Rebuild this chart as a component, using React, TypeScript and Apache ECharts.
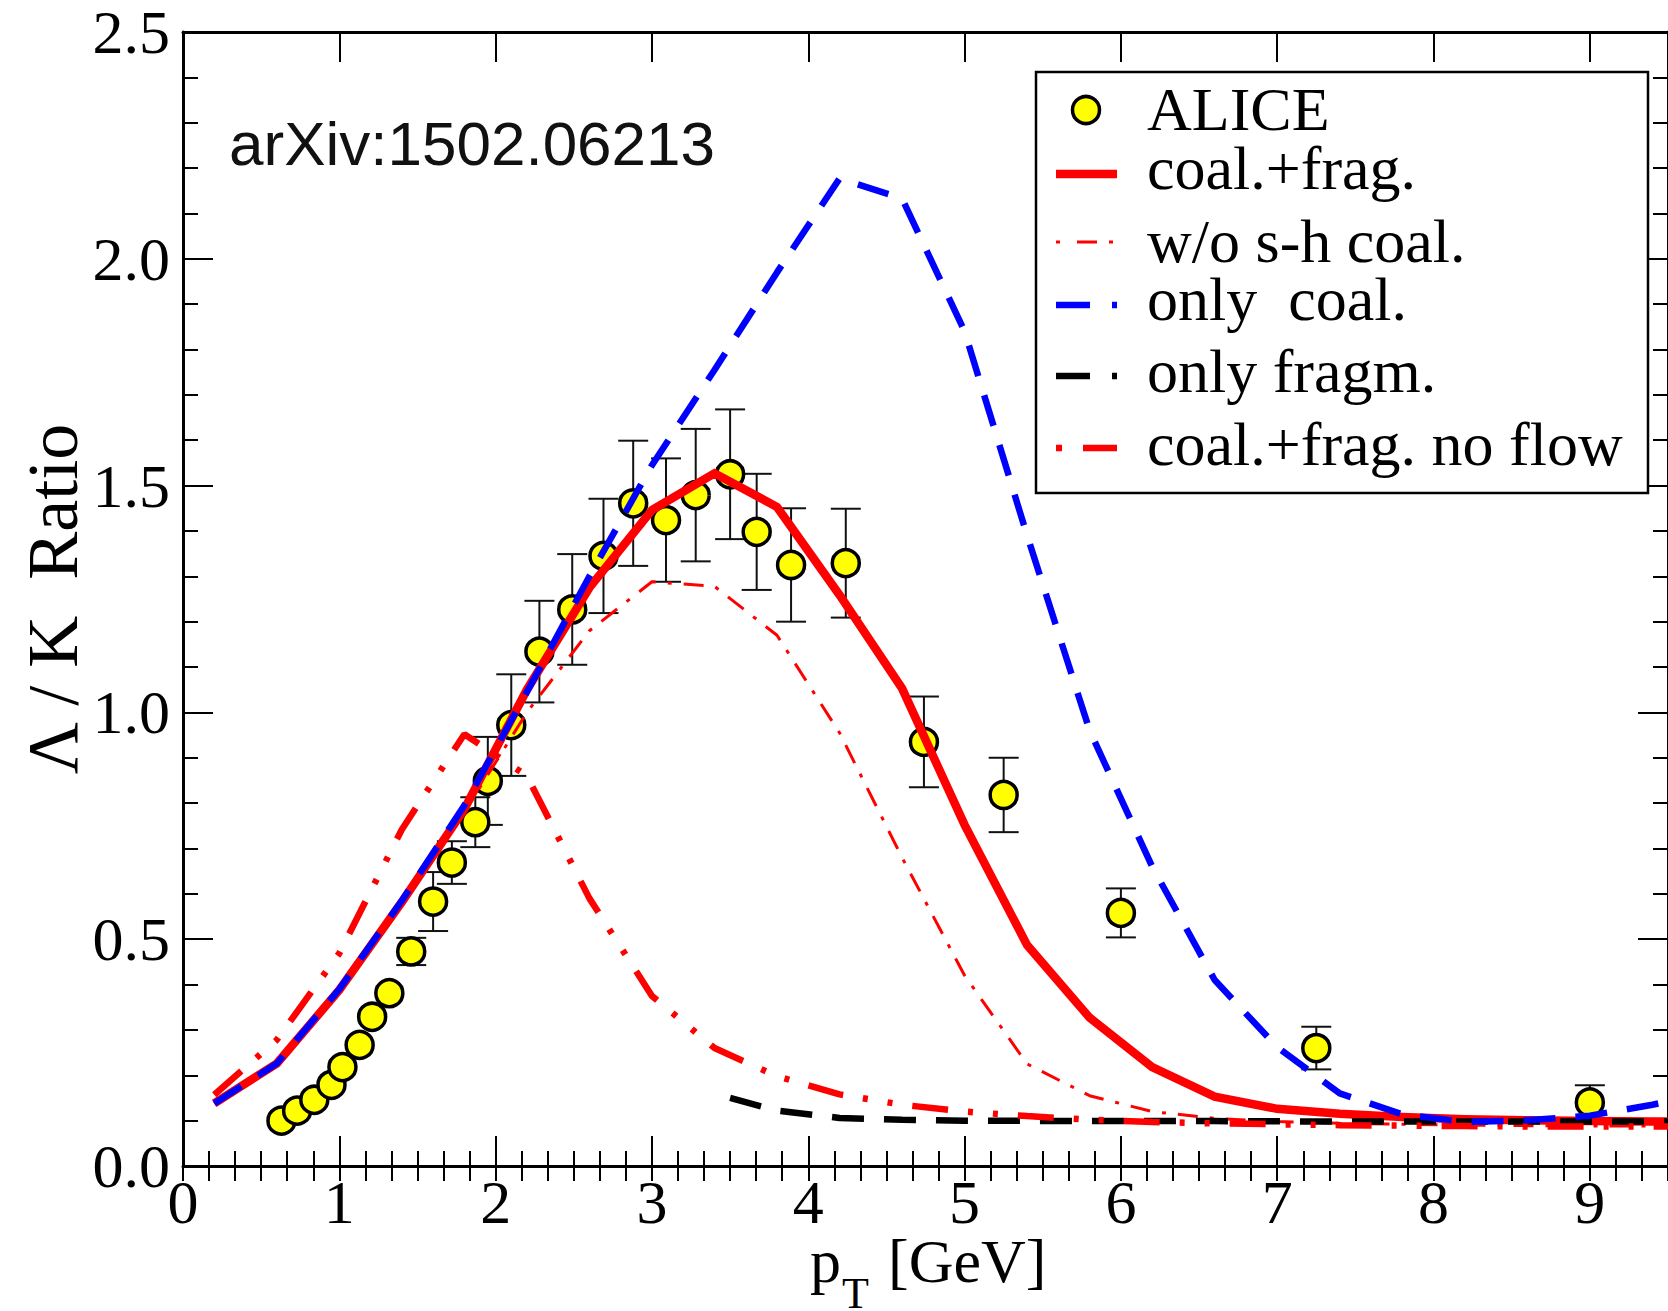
import React, { useEffect, useRef } from 'react';
import * as echarts from 'echarts';

// ---- data ----
const modelPt = [0.2, 0.6, 1.0, 1.4, 1.8, 2.2, 2.6, 3.0, 3.4, 3.8, 4.2, 4.6, 5.0, 5.4, 5.8, 6.2, 6.6, 7.0, 7.4, 7.8, 8.2, 8.6, 9.0, 9.4, 9.5];
const coalFrag = [0.138, 0.226, 0.388, 0.582, 0.787, 1.05, 1.275, 1.446, 1.527, 1.453, 1.259, 1.053, 0.752, 0.487, 0.327, 0.218, 0.153, 0.126, 0.115, 0.108, 0.103, 0.101, 0.099, 0.098, 0.098];
const woShCoal = [0.138, 0.226, 0.385, 0.575, 0.78, 1.0, 1.18, 1.288, 1.278, 1.17, 0.955, 0.68, 0.42, 0.225, 0.155, 0.12, 0.105, 0.098, 0.094, 0.092, 0.09, 0.089, 0.088, 0.088, 0.088];
const onlyCoal = [0.138, 0.226, 0.39, 0.585, 0.795, 1.045, 1.30, 1.545, 1.755, 1.97, 2.177, 2.133, 1.84, 1.39, 0.96, 0.66, 0.41, 0.262, 0.16, 0.114, 0.097, 0.101, 0.111, 0.135, 0.142];
const noFlow = [0.157, 0.278, 0.469, 0.742, 0.952, 0.86, 0.59, 0.375, 0.26, 0.198, 0.158, 0.135, 0.12, 0.11, 0.102, 0.097, 0.094, 0.092, 0.09, 0.089, 0.088, 0.087, 0.087, 0.087, 0.087];
const fragPt = [3.5, 3.8, 4.2, 4.6, 5.0, 5.8, 6.6, 7.4, 8.2, 9.0, 9.5];
const onlyFragm = [0.15, 0.122, 0.106, 0.102, 0.1, 0.099, 0.099, 0.098, 0.098, 0.098, 0.098];

const aliceX = [0.63, 0.73, 0.84, 0.95, 1.02, 1.13, 1.21, 1.32, 1.46, 1.60, 1.72, 1.87, 1.95, 2.10, 2.28, 2.49, 2.69, 2.88, 3.09, 3.28, 3.50, 3.67, 3.89, 4.24, 4.74, 5.25, 6.00, 7.25, 9.00];
const aliceY = [0.100, 0.122, 0.146, 0.179, 0.218, 0.267, 0.329, 0.381, 0.473, 0.583, 0.669, 0.758, 0.849, 0.972, 1.134, 1.227, 1.345, 1.461, 1.424, 1.479, 1.525, 1.398, 1.325, 1.329, 0.935, 0.818, 0.558, 0.260, 0.140];
const aliceErr = [0, 0, 0, 0, 0, 0, 0, 0, 0.03, 0.065, 0.047, 0.055, 0.097, 0.112, 0.112, 0.122, 0.126, 0.138, 0.136, 0.146, 0.143, 0.128, 0.125, 0.12, 0.1, 0.082, 0.054, 0.047, 0.038];

const xTickLabels = ['0', '1', '2', '3', '4', '5', '6', '7', '8', '9'];
const yTickLabels = ['0.0', '0.5', '1.0', '1.5', '2.0', '2.5'];

const legendNames = ['ALICE', 'coal.+frag.', 'w/o s-h coal.', 'only  coal.', 'only fragm.', 'coal.+frag. no flow'];
const annotation = 'arXiv:1502.06213';
const xTitleParts = ['p', 'T', '[GeV]'];
const yTitle = 'Λ / K  Ratio';

const SERIF = "'Liberation Serif', 'Times New Roman', serif";
const SANS = "'Liberation Sans', Arial, sans-serif";

const pairs = (xs: number[], ys: number[]) => xs.map((x, i) => [x, ys[i]]);

export default function App() {
  const ref = useRef<HTMLDivElement>(null);

  useEffect(() => {
    document.body.style.margin = '0';
    const chart = echarts.init(ref.current!, null, { renderer: 'svg' });

    const tickLine = { color: '#000', width: 2 };
    const frameLine = { show: true, onZero: false, lineStyle: { color: '#000', width: 3 } };

    const xMajorBase = {
      type: 'value', min: 0, max: 9.5, interval: 1,
      axisLine: frameLine,
      axisTick: { show: true, inside: true, length: 30, lineStyle: tickLine },
      splitLine: { show: false },
    };
    const xMinorBase = {
      type: 'value', min: 0, max: 9.5, interval: 1 / 6,
      axisLine: { show: false },
      axisTick: { show: true, inside: true, length: 15, lineStyle: tickLine },
      axisLabel: { show: false },
      splitLine: { show: false },
    };
    const yBase = {
      type: 'value', min: 0, max: 2.5, interval: 0.5,
      axisLine: frameLine,
      axisTick: { show: true, inside: true, length: 30, lineStyle: tickLine },
      minorTick: { show: true, splitNumber: 5, length: 15, lineStyle: tickLine },
      splitLine: { show: false },
      minorSplitLine: { show: false },
    };

    const legendX0 = 1056, legendX1 = 1117, legendText = 1147;
    const rowY = [110, 174, 242, 305, 376, 448];
    const textY = [109, 168, 241, 299, 371, 444];

    const legendGraphics: any[] = [
      { type: 'rect', shape: { x: 1036, y: 72, width: 612, height: 421 }, style: { fill: '#fff', stroke: '#000', lineWidth: 2.5 }, z: 100 },
      { type: 'circle', shape: { cx: 1086, cy: rowY[0], r: 13.5 }, style: { fill: '#ffff00', stroke: '#000', lineWidth: 3.5 }, z: 101 },
      { type: 'line', shape: { x1: legendX0, y1: rowY[1], x2: legendX1, y2: rowY[1] }, style: { stroke: '#ff0000', lineWidth: 8.5 }, z: 101 },
      { type: 'line', shape: { x1: legendX0, y1: rowY[2], x2: legendX1, y2: rowY[2] }, style: { stroke: '#ff0000', lineWidth: 3, lineDash: [4, 17, 20, 12, 4, 30] }, z: 101 },
      { type: 'line', shape: { x1: legendX0, y1: rowY[3], x2: legendX1, y2: rowY[3] }, style: { stroke: '#0000ff', lineWidth: 6.5, lineDash: [34, 22] }, z: 101 },
      { type: 'line', shape: { x1: legendX0, y1: rowY[4], x2: legendX1, y2: rowY[4] }, style: { stroke: '#000', lineWidth: 6.5, lineDash: [34, 22] }, z: 101 },
      { type: 'line', shape: { x1: legendX0, y1: rowY[5], x2: legendX1, y2: rowY[5] }, style: { stroke: '#ff0000', lineWidth: 6.5, lineDash: [6, 21, 34, 30] }, z: 101 },
    ];
    legendNames.forEach((n, i) => {
      legendGraphics.push({
        type: 'text', x: legendText, y: textY[i], z: 101,
        style: { text: n, fontFamily: SERIF, fontSize: 62, lineHeight: 50, fill: '#000', align: 'left', verticalAlign: 'middle' },
      });
    });

    const xTitleGraphics: any[] = [
      { type: 'text', x: 810, y: 1261, z: 50, style: { text: xTitleParts[0], fontFamily: SERIF, fontSize: 62, lineHeight: 56, fill: '#000', align: 'left', verticalAlign: 'middle' } },
      { type: 'text', x: 842, y: 1293, z: 50, style: { text: xTitleParts[1], fontFamily: SERIF, fontSize: 44, lineHeight: 36, fill: '#000', align: 'left', verticalAlign: 'middle' } },
      { type: 'text', x: 888, y: 1261, z: 50, style: { text: xTitleParts[2], fontFamily: SERIF, fontSize: 62, lineHeight: 56, fill: '#000', align: 'left', verticalAlign: 'middle' } },
    ];

    const option: any = {
      animation: false,
      backgroundColor: '#fff',
      grid: { left: 183, top: 32, width: 1485, height: 1134, containLabel: false, outerBoundsMode: 'none' },
      xAxis: [
        {
          ...xMajorBase, position: 'bottom',
          axisLabel: {
            show: true, margin: 8, fontFamily: SERIF, fontSize: 62, lineHeight: 56, color: '#000', showMaxLabel: false,
            formatter: (v: number) => {
              const r = Math.round(v);
              return Math.abs(v - r) < 1e-6 && r >= 0 && r < xTickLabels.length ? xTickLabels[r] : '';
            },
          },
        },
        { ...xMinorBase, position: 'bottom' },
        { ...xMajorBase, position: 'top', axisLabel: { show: false } },
        { ...xMinorBase, position: 'top' },
      ],
      yAxis: [
        {
          ...yBase, position: 'left',
          axisLabel: {
            show: true, margin: 13, fontFamily: SERIF, fontSize: 62, lineHeight: 54, color: '#000',
            formatter: (v: number) => {
              const i = Math.round(v / 0.5);
              return i >= 0 && i < yTickLabels.length ? yTickLabels[i] : '';
            },
          },
          name: yTitle, nameLocation: 'middle', nameGap: 94, nameRotate: 90, nameMoveOverlap: false,
          nameTextStyle: { color: '#000', fontFamily: SERIF, fontSize: 72 },
        },
        { ...yBase, position: 'right', axisLabel: { show: false } },
      ],
      series: [
        {
          name: 'ALICE error', type: 'custom', xAxisIndex: 0, yAxisIndex: 0, z: 2, silent: true,
          data: aliceX.map((x, i) => [x, aliceY[i] - aliceErr[i], aliceY[i] + aliceErr[i]]).filter((d) => d[2] > d[1]),
          encode: { x: 0, y: [1, 2] },
          renderItem: (_p: any, api: any) => {
            const lo = api.coord([api.value(0), api.value(1)]);
            const hi = api.coord([api.value(0), api.value(2)]);
            const hw = 15;
            const st = { stroke: '#111', lineWidth: 2 };
            return {
              type: 'group',
              children: [
                { type: 'line', shape: { x1: lo[0], y1: lo[1], x2: hi[0], y2: hi[1] }, style: st },
                { type: 'line', shape: { x1: lo[0] - hw, y1: lo[1], x2: lo[0] + hw, y2: lo[1] }, style: st },
                { type: 'line', shape: { x1: hi[0] - hw, y1: hi[1], x2: hi[0] + hw, y2: hi[1] }, style: st },
              ],
            };
          },
        },
        {
          name: 'ALICE', type: 'scatter', xAxisIndex: 0, yAxisIndex: 0, z: 3,
          data: pairs(aliceX, aliceY), symbol: 'circle', symbolSize: 27,
          itemStyle: { color: '#ffff00', borderColor: '#000', borderWidth: 3.5, opacity: 1 },
        },
        {
          name: 'coal.+frag.', type: 'line', xAxisIndex: 0, yAxisIndex: 0, z: 4, symbol: 'none', showSymbol: false,
          data: pairs(modelPt, coalFrag), lineStyle: { color: '#ff0000', width: 8.5, join: 'miter' },
        },
        {
          name: 'w/o s-h coal.', type: 'line', xAxisIndex: 0, yAxisIndex: 0, z: 5, symbol: 'none', showSymbol: false,
          data: pairs(modelPt, woShCoal), lineStyle: { color: '#ff0000', width: 3, type: [20, 12, 4, 12] },
        },
        {
          name: 'only fragm.', type: 'line', xAxisIndex: 0, yAxisIndex: 0, z: 6, symbol: 'none', showSymbol: false,
          data: pairs(fragPt, onlyFragm), lineStyle: { color: '#000', width: 6.5, type: [32, 20] },
        },
        {
          name: 'coal.+frag. no flow', type: 'line', xAxisIndex: 0, yAxisIndex: 0, z: 7, symbol: 'none', showSymbol: false,
          data: pairs(modelPt, noFlow), lineStyle: { color: '#ff0000', width: 6.5, type: [36, 20, 5, 20, 5, 20] },
        },
        {
          name: 'only  coal.', type: 'line', xAxisIndex: 0, yAxisIndex: 0, z: 8, symbol: 'none', showSymbol: false,
          data: pairs(modelPt, onlyCoal), lineStyle: { color: '#0000ff', width: 6.5, type: [32, 20] },
        },
      ],
      graphic: [
        {
          type: 'text', x: 229, y: 143, z: 50,
          style: { text: annotation, fontFamily: SANS, fontSize: 62, lineHeight: 56, fill: '#111', align: 'left', verticalAlign: 'middle' },
        },
        ...xTitleGraphics,
        ...legendGraphics,
      ],
    };

    chart.setOption(option);
    return () => chart.dispose();
  }, []);

  return <div ref={ref} style={{ position: 'absolute', left: 0, top: 0, width: 1668, height: 1311, background: '#fff' }} />;
}
